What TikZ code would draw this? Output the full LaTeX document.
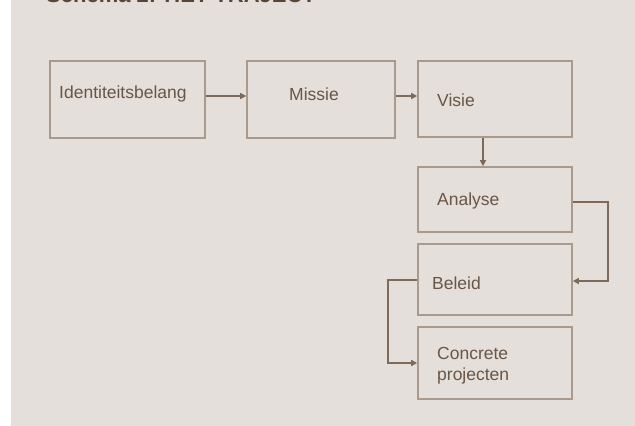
\documentclass[tikz,border=0pt]{standalone}
\usepackage{fontspec}
\setmainfont{Liberation Sans}
\usetikzlibrary{arrows.meta}
\definecolor{bg}{HTML}{E4DFDA}
\definecolor{boxc}{HTML}{A99A8C}
\definecolor{txt}{HTML}{6A5646}
\definecolor{arr}{HTML}{7D6A5A}
\definecolor{ttl}{HTML}{5A4432}
\begin{document}
\begin{tikzpicture}[x=1pt,y=-1pt,
  box/.style={draw=boxc, line width=1.6pt, rectangle, inner sep=0pt},
  lbl/.style={anchor=west, inner sep=0pt, text=txt, font=\fontsize{17.5}{21}\selectfont, align=left},
  conn/.style={draw=arr, line width=1.4pt, -{Triangle[length=6pt,width=6pt]}}]
\useasboundingbox (0,0) rectangle (635,426);
\clip (0,0) rectangle (635,426);
\fill[white] (0,0) rectangle (11,426);
\fill[bg] (11,0) rectangle (635,426);
\node[anchor=base west, inner sep=0pt, text=ttl, font=\bfseries\fontsize{22}{26}\selectfont] (title) at (46,2.2) {Schema 2: HET TRAJECT};
% boxes
\node[box, minimum width=155pt, minimum height=77pt] (b1) at (127.5,99.5) {};
\node[box, minimum width=148pt, minimum height=77pt] (b2) at (321,99.5) {};
\node[box, minimum width=154pt, minimum height=76pt] (b3) at (495,99) {};
\node[box, minimum width=154pt, minimum height=65pt] (b4) at (495,199.5) {};
\node[box, minimum width=154pt, minimum height=71pt] (b5) at (495,279.5) {};
\node[box, minimum width=154pt, minimum height=72pt] (b6) at (495,363) {};
% labels
\node[lbl] (t1) at (59,94) {Identiteitsbelang};
\node[lbl] (t2) at (289,94) {Missie};
\node[lbl] (t3) at (437,100) {Visie};
\node[lbl] (t4) at (437,201) {Analyse};
\node[lbl] (t5) at (432,283) {Beleid};
\node[lbl] (t6) at (437,366) {Concrete\\projecten};
% connectors
\coordinate (a1) at (0,96);
\coordinate (v1) at (483,0);
\draw[conn] (b1.east |- a1) -- (b2.west |- a1);
\draw[conn] (b2.east |- a1) -- (b3.west |- a1);
\draw[conn] (v1 |- b3.south) -- (v1 |- b4.north);
\coordinate (c1) at (608,202);
\coordinate (c2) at (608,281);
\draw[conn] (b4.east |- c1) -- (c1) -- (c2) -- (b5.east |- c2);
\coordinate (d1) at (388,280);
\coordinate (d2) at (388,363);
\draw[conn] (b5.west |- d1) -- (d1) -- (d2) -- (b6.west |- d2);
\end{tikzpicture}
\end{document}
